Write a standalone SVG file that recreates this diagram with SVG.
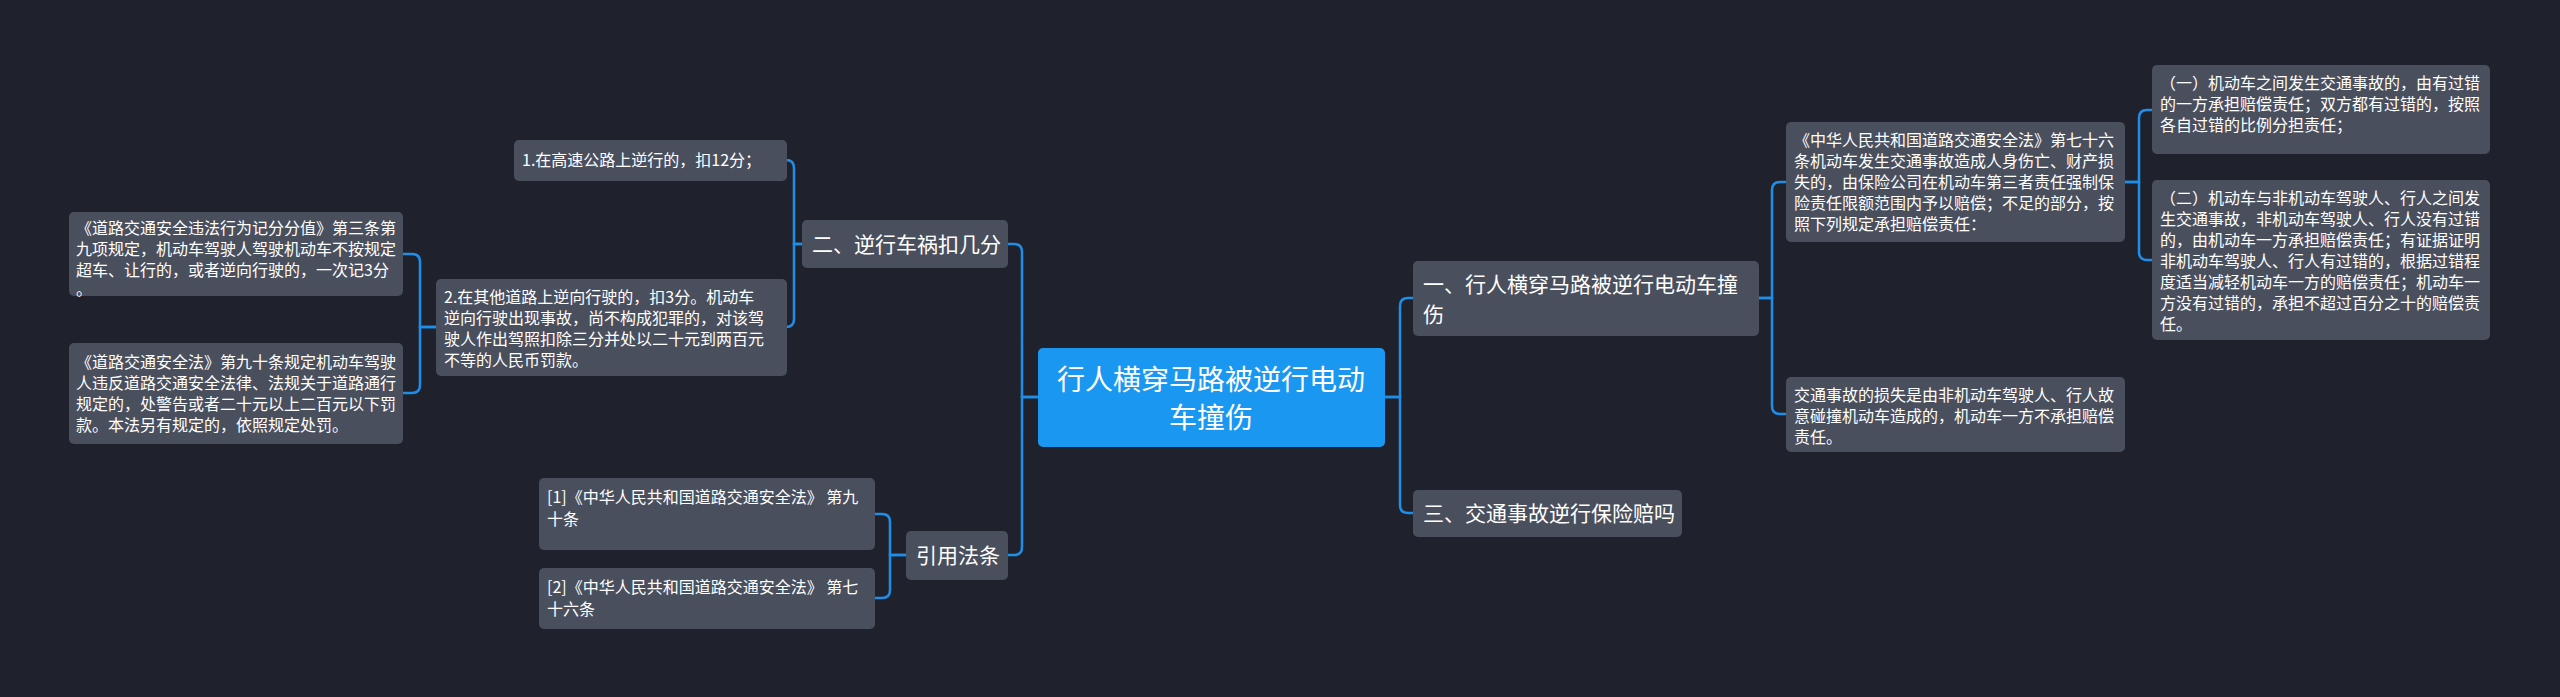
<svg xmlns="http://www.w3.org/2000/svg" width="2560" height="697" viewBox="0 0 2560 697">
<style>
.bg{fill:#1f222d}
.n rect{fill:#4a4f5e}
.r rect{fill:#1a97f0}
text{fill:#ffffff;font-family:"Noto Sans CJK SC","Noto Sans",sans-serif}
.s{font-size:16px}
.m{font-size:21px}
.l{font-size:28px}
#conn path{fill:none;stroke:#1f8ee8;stroke-width:2.5}
</style>
<rect class="bg" width="2560" height="697"/>
<g id="conn">
<path d="M1038 397 H1022 V252 Q1022 244 1014 244 H1008"/>
<path d="M1038 397 H1022 V547 Q1022 555 1014 555 H1008"/>
<path d="M1385 397 H1400 V306 Q1400 298 1408 298 H1413"/>
<path d="M1385 397 H1400 V505 Q1400 513 1408 513 H1413"/>
<path d="M802 244 H794 V168 Q794 160 786 160 H787"/>
<path d="M802 244 H794 V319 Q794 327 786 327 H787"/>
<path d="M436 327 H420 V262 Q420 254 412 254 H403"/>
<path d="M436 327 H420 V385 Q420 393 412 393 H403"/>
<path d="M906 555 H890 V522 Q890 514 882 514 H875"/>
<path d="M906 555 H890 V590 Q890 598 882 598 H875"/>
<path d="M1759 298 H1772 V190 Q1772 182 1780 182 H1786"/>
<path d="M1759 298 H1772 V406 Q1772 414 1780 414 H1786"/>
<path d="M2125 182 H2139 V118 Q2139 110 2147 110 H2152"/>
<path d="M2125 182 H2139 V252 Q2139 260 2147 260 H2152"/>
</g>
<g id="root" class="r"><rect x="1038" y="348" width="347" height="99" rx="5"/>
<text class="l" text-anchor="middle" x="1211" y="390">行人横穿马路被逆行电动</text><text class="l" text-anchor="middle" x="1211" y="428">车撞伤</text></g>
<g id="b2" class="n"><rect x="802" y="220" width="206" height="48" rx="5"/><text class="m" x="812" y="252">二、逆行车祸扣几分</text></g>
<g id="bref" class="n"><rect x="906" y="531" width="102" height="49" rx="5"/><text class="m" x="916" y="563">引用法条</text></g>
<g id="b1" class="n"><rect x="1413" y="261" width="346" height="75" rx="5"/><text class="m" x="1423" y="292">一、行人横穿马路被逆行电动车撞</text><text class="m" x="1423" y="322">伤</text></g>
<g id="b3" class="n"><rect x="1413" y="490" width="269" height="47" rx="5"/><text class="m" x="1423" y="521">三、交通事故逆行保险赔吗</text></g>
<g id="l1" class="n"><rect x="514" y="140" width="273" height="41" rx="5"/><text class="s" x="522" y="166">1.在高速公路上逆行的，扣12分；</text></g>
<g id="l2" class="n"><rect x="436" y="279" width="351" height="97" rx="5"/><text class="s" x="444" y="303">2.在其他道路上逆向行驶的，扣3分。机动车</text><text class="s" x="444" y="324">逆向行驶出现事故，尚不构成犯罪的，对该驾</text><text class="s" x="444" y="345">驶人作出驾照扣除三分并处以二十元到两百元</text><text class="s" x="444" y="366">不等的人民币罚款。</text></g>
<g id="l3" class="n"><rect x="69" y="212" width="334" height="84" rx="5"/><text class="s" x="76" y="234">《道路交通安全违法行为记分分值》第三条第</text><text class="s" x="76" y="255">九项规定，机动车驾驶人驾驶机动车不按规定</text><text class="s" x="76" y="276">超车、让行的，或者逆向行驶的，一次记3分</text><text class="s" x="76" y="295">。</text></g>
<g id="l4" class="n"><rect x="69" y="343" width="334" height="101" rx="5"/><text class="s" x="76" y="368">《道路交通安全法》第九十条规定机动车驾驶</text><text class="s" x="76" y="389">人违反道路交通安全法律、法规关于道路通行</text><text class="s" x="76" y="410">规定的，处警告或者二十元以上二百元以下罚</text><text class="s" x="76" y="431">款。本法另有规定的，依照规定处罚。</text></g>
<g id="r1" class="n"><rect x="539" y="478" width="336" height="72" rx="5"/><text class="s" x="547" y="503">[1]《中华人民共和国道路交通安全法》 第九</text><text class="s" x="547" y="525">十条</text></g>
<g id="r2" class="n"><rect x="539" y="568" width="336" height="61" rx="5"/><text class="s" x="547" y="593">[2]《中华人民共和国道路交通安全法》 第七</text><text class="s" x="547" y="615">十六条</text></g>
<g id="law76" class="n"><rect x="1786" y="122" width="339" height="120" rx="5"/><text class="s" x="1794" y="146">《中华人民共和国道路交通安全法》第七十六</text><text class="s" x="1794" y="167">条机动车发生交通事故造成人身伤亡、财产损</text><text class="s" x="1794" y="188">失的，由保险公司在机动车第三者责任强制保</text><text class="s" x="1794" y="209">险责任限额范围内予以赔偿；不足的部分，按</text><text class="s" x="1794" y="230">照下列规定承担赔偿责任：</text></g>
<g id="c1" class="n"><rect x="2152" y="65" width="338" height="89" rx="5"/><text class="s" x="2160" y="89">（一）机动车之间发生交通事故的，由有过错</text><text class="s" x="2160" y="110">的一方承担赔偿责任；双方都有过错的，按照</text><text class="s" x="2160" y="131">各自过错的比例分担责任；</text></g>
<g id="c2" class="n"><rect x="2152" y="180" width="338" height="160" rx="5"/><text class="s" x="2160" y="204">（二）机动车与非机动车驾驶人、行人之间发</text><text class="s" x="2160" y="225">生交通事故，非机动车驾驶人、行人没有过错</text><text class="s" x="2160" y="246">的，由机动车一方承担赔偿责任；有证据证明</text><text class="s" x="2160" y="267">非机动车驾驶人、行人有过错的，根据过错程</text><text class="s" x="2160" y="288">度适当减轻机动车一方的赔偿责任；机动车一</text><text class="s" x="2160" y="309">方没有过错的，承担不超过百分之十的赔偿责</text><text class="s" x="2160" y="330">任。</text></g>
<g id="loss" class="n"><rect x="1786" y="377" width="339" height="75" rx="5"/><text class="s" x="1794" y="401">交通事故的损失是由非机动车驾驶人、行人故</text><text class="s" x="1794" y="422">意碰撞机动车造成的，机动车一方不承担赔偿</text><text class="s" x="1794" y="443">责任。</text></g>
</svg>
